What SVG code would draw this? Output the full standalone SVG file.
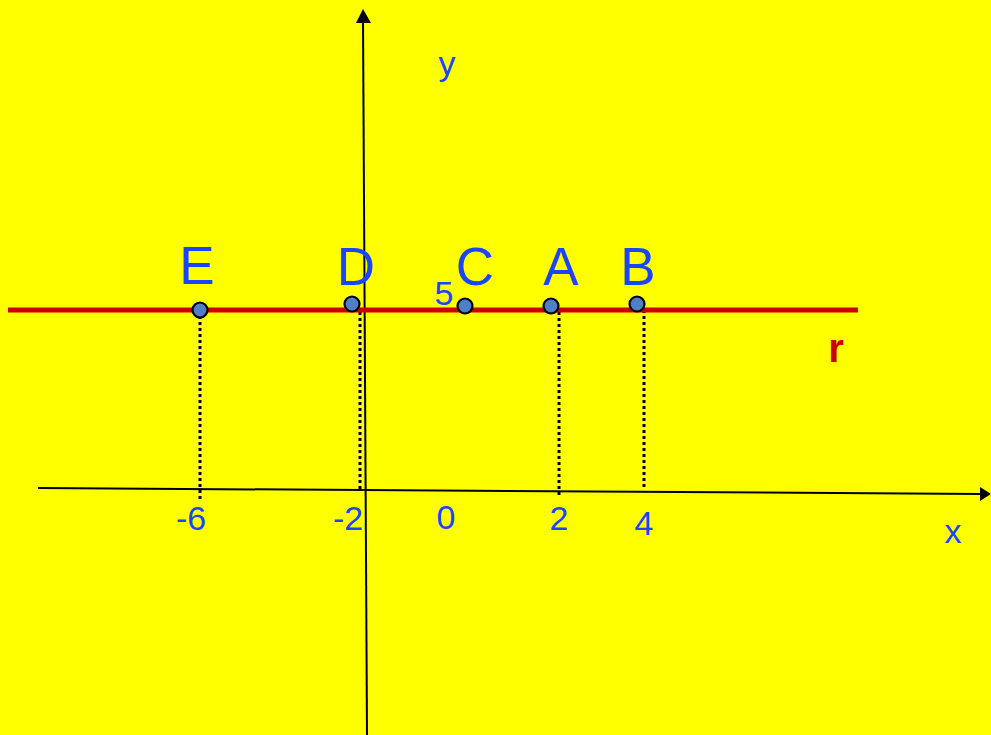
<svg xmlns="http://www.w3.org/2000/svg" width="991" height="735" viewBox="0 0 991 735">
<defs>
<style>
.lbl{font-family:"Liberation Sans",Arial,sans-serif;fill:#1a45ff;text-anchor:middle}
.big{font-size:53px}
.num{font-size:34px}
.axis{stroke:#000;stroke-width:2;fill:none}
.dot{stroke:#000;stroke-width:3;stroke-dasharray:3 3;fill:none}
.pt{fill:#4f7fc6;stroke:#000;stroke-width:2.2}
</style>
</defs>
<rect width="991" height="735" fill="#ffff00"/>
<g id="connectors">
<line class="dot" x1="200" y1="316" x2="200" y2="500"/>
<line class="dot" x1="360" y1="312" x2="360" y2="492"/>
<line class="dot" x1="559" y1="312" x2="559" y2="495"/>
<line class="dot" x1="644" y1="310" x2="644" y2="490"/>
</g>
<g id="axes">
<line class="axis" x1="363" y1="20" x2="367" y2="735"/>
<polygon points="363,9 356,23 371,23" fill="#000"/>
<line class="axis" x1="38" y1="488" x2="981" y2="494"/>
<polygon points="991,494 980,487 980,501" fill="#000"/>
<text class="lbl num" x="447" y="75">y</text>
<text class="lbl num" x="953" y="543">x</text>
</g>
<g id="line-r">
<line x1="8" y1="310" x2="858" y2="310" stroke="#cc0000" stroke-width="5"/>
<text x="836" y="362" font-family="Liberation Sans,Arial,sans-serif" font-weight="bold" font-size="40" fill="#cc0000" text-anchor="middle">r</text>
</g>
<g id="ticks">
<text class="lbl num" x="191" y="530">-6</text>
<text class="lbl num" x="348" y="530">-2</text>
<text class="lbl num" x="446" y="529">0</text>
<text class="lbl num" x="559" y="530">2</text>
<text class="lbl num" x="644" y="535">4</text>
<text class="lbl num" x="444" y="305">5</text>
</g>
<g id="E"><circle class="pt" cx="200" cy="310" r="7.5"/><text class="lbl big" x="197" y="284">E</text></g>
<g id="D"><circle class="pt" cx="352" cy="304" r="7.5"/><text class="lbl big" x="356" y="285">D</text></g>
<g id="C"><circle class="pt" cx="465" cy="306" r="7.5"/><text class="lbl big" x="475" y="285">C</text></g>
<g id="A"><circle class="pt" cx="551" cy="306" r="7.5"/><text class="lbl big" x="561" y="285">A</text></g>
<g id="B"><circle class="pt" cx="637" cy="304" r="7.5"/><text class="lbl big" x="638" y="285">B</text></g>
</svg>
